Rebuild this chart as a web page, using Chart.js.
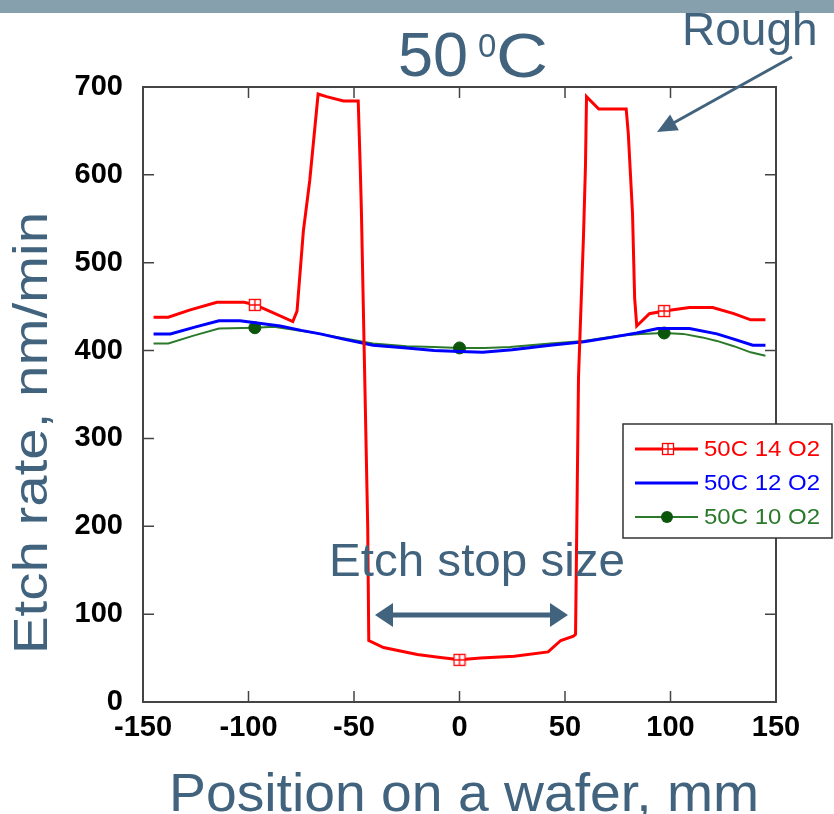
<!DOCTYPE html>
<html>
<head>
<meta charset="utf-8">
<script src="https://cdn.jsdelivr.net/npm/chart.js@4.4.1/dist/chart.umd.min.js"></script>
<style>
  body { margin: 0; background: #fff; }
  #wrap { position: relative; width: 834px; height: 814px; }
</style>
</head>
<body>
<div id="wrap"><canvas id="etchChart"></canvas></div>
<script>
// series data (position mm, etch rate nm/min)
const redX = [-145, -138, -128, -115, -102, -97, -93, -79, -77, -74, -71, -67, -63, -55, -48, -47, -46.5, -45, -43.5, -43, -36, -20, -10, 0, 10, 26, 42, 48, 54, 55, 56.4, 58.8, 59.7, 60.2, 66, 79, 80, 82, 83, 84, 90, 97, 109, 120, 130, 138, 145];
const redY = [438, 438, 446, 455, 455, 452, 448, 433, 445, 536, 593, 692, 689, 684, 684, 605, 560, 380, 200, 70, 62, 54, 51, 48, 50, 52, 57, 70, 75, 77, 369, 533, 610, 689, 675, 675, 647, 556, 460, 428, 442, 445, 449, 449, 442, 435, 435];

const blueX = [-145, -137, -125, -114, -104, -95, -85, -75, -66, -55, -41, -25, -12, 0, 11, 25, 43, 59, 72, 84, 94, 109, 122, 130, 139, 145];
const blueY = [419, 419, 427, 434, 434, 431, 428, 423, 419, 413, 406, 403, 400, 399, 398, 401, 406, 410, 415, 420, 425, 425, 419, 413, 406, 406];

const greenX = [-145, -138, -126, -114, -97, -88, -77, -66, -55, -41, -25, -12, 0, 12, 24, 43, 59, 75, 86, 97, 106, 115, 122, 130, 138, 145];
const greenY = [408, 408, 417, 425, 426, 427, 423, 419, 414, 408, 405, 404, 403, 403, 404, 408, 411, 417, 419, 420, 419, 415, 411, 405, 398, 394];

const markerX = [-97, 0, 97];   // positions that carry a symbol
const seriesLabels = ["50C 14 O2", "50C 12 O2", "50C 10 O2"];
const xTicks = [-150, -100, -50, 0, 50, 100, 150];
const yTicks = [0, 100, 200, 300, 400, 500, 600, 700];

const textBlue = "#41637e";
const greenLine = "#2b7a2b";
const greenDot = "#0b560b";
const sans = "'Liberation Sans', Arial, sans-serif";

function toPoints(xs, ys) {
  return xs.map((x, i) => ({ x: x, y: ys[i] }));
}

// red open square with cross
function makeSquareMarker() {
  const c = document.createElement("canvas");
  c.width = 14; c.height = 14;
  const g = c.getContext("2d");
  g.fillStyle = "#fff";
  g.fillRect(1, 1, 12, 12);
  g.strokeStyle = "#ff0000";
  g.lineWidth = 1.3;
  g.strokeRect(1.5, 1.5, 11, 11);
  g.beginPath();
  g.moveTo(7, 1.5); g.lineTo(7, 12.5);
  g.moveTo(1.5, 7); g.lineTo(12.5, 7);
  g.stroke();
  return c;
}
const squareMarker = makeSquareMarker();

function isMarker(ctx) {
  const p = ctx.raw;
  return p && markerX.indexOf(p.x) !== -1;
}

// draw text starting at x, stretched horizontally to a given width
function fitText(ctx, text, x, y, width) {
  const w = ctx.measureText(text).width;
  ctx.save();
  ctx.translate(x, y);
  ctx.scale(width / w, 1);
  ctx.fillText(text, 0, 0);
  ctx.restore();
}

function arrowHead(ctx, x1, y1, x2, y2, len, half) {
  const a = Math.atan2(y2 - y1, x2 - x1);
  ctx.beginPath();
  ctx.moveTo(x2, y2);
  ctx.lineTo(x2 - len * Math.cos(a) + half * Math.sin(a), y2 - len * Math.sin(a) - half * Math.cos(a));
  ctx.lineTo(x2 - len * Math.cos(a) - half * Math.sin(a), y2 - len * Math.sin(a) + half * Math.cos(a));
  ctx.closePath();
  ctx.fill();
}

const decorPlugin = {
  id: "decor",
  beforeDraw(chart) {
    const ctx = chart.ctx;
    ctx.save();
    ctx.fillStyle = "#fff";
    ctx.fillRect(0, 0, chart.width, chart.height);
    // top band
    ctx.fillStyle = "#87a0ad";
    ctx.fillRect(0, 0, chart.width, 13);
    ctx.restore();
  },
  afterDatasetsDraw(chart) {
    const ctx = chart.ctx;
    const a = chart.chartArea;
    const xs = chart.scales.x, ys = chart.scales.y;
    ctx.save();
    // frame
    ctx.strokeStyle = "#444";
    ctx.lineWidth = 2;
    ctx.strokeRect(a.left, a.top, a.right - a.left, a.bottom - a.top);
    // inward ticks on all four sides
    ctx.lineWidth = 1.5;
    ctx.beginPath();
    xs.ticks.forEach(t => {
      const px = xs.getPixelForValue(t.value);
      ctx.moveTo(px, a.bottom); ctx.lineTo(px, a.bottom - 11);
      ctx.moveTo(px, a.top); ctx.lineTo(px, a.top + 11);
    });
    ys.ticks.forEach(t => {
      const py = ys.getPixelForValue(t.value);
      ctx.moveTo(a.left, py); ctx.lineTo(a.left + 11, py);
      ctx.moveTo(a.right, py); ctx.lineTo(a.right - 11, py);
    });
    ctx.stroke();

    // legend box
    const lx = 623, ly = 424, lw = 209, lh = 114;
    ctx.fillStyle = "#fff";
    ctx.fillRect(lx, ly, lw, lh);
    ctx.strokeStyle = "#333";
    ctx.lineWidth = 1.5;
    ctx.strokeRect(lx, ly, lw, lh);
    const rows = [449, 483, 517];
    ctx.font = "22px " + sans;
    ctx.textBaseline = "middle";
    chart.data.datasets.forEach((ds, i) => {
      const y = rows[i];
      ctx.strokeStyle = ds.borderColor;
      ctx.lineWidth = i === 2 ? 2 : 3;
      ctx.beginPath();
      ctx.moveTo(635, y); ctx.lineTo(698, y);
      ctx.stroke();
      if (i === 0) {
        ctx.drawImage(squareMarker, 668 - 7, y - 7);
      } else if (i === 2) {
        ctx.fillStyle = greenDot;
        ctx.beginPath();
        ctx.arc(667, y, 6, 0, Math.PI * 2);
        ctx.fill();
      }
      ctx.fillStyle = ds.borderColor;
      fitText(ctx, ds.label, 704, y + 1, 116);
    });

    // annotations
    ctx.fillStyle = textBlue;
    ctx.strokeStyle = textBlue;
    ctx.textBaseline = "alphabetic";
    ctx.textAlign = "left";
    ctx.font = "63px " + sans;
    ctx.fillText("50", 398, 76);
    ctx.font = "33px " + sans;
    ctx.fillText("0", 478, 57);
    ctx.font = "63px " + sans;
    fitText(ctx, "C", 496, 77, 52);

    ctx.font = "46px " + sans;
    ctx.fillText("Rough", 682, 45);

    ctx.font = "47px " + sans;
    fitText(ctx, "Etch stop size", 329, 576, 296);

    ctx.font = "53px " + sans;
    fitText(ctx, "Position on a wafer, mm", 169, 811, 590);

    ctx.save();
    ctx.translate(47, 654);
    ctx.rotate(-Math.PI / 2);
    ctx.font = "49px " + sans;
    fitText(ctx, "Etch rate, nm/min", 0, 0, 442);
    ctx.restore();

    // arrow to the rough region
    ctx.lineWidth = 3;
    ctx.beginPath();
    ctx.moveTo(792, 57);
    ctx.lineTo(668, 126);
    ctx.stroke();
    arrowHead(ctx, 792, 57, 657, 132, 20, 9);

    // etch stop double arrow
    ctx.lineWidth = 5;
    ctx.beginPath();
    ctx.moveTo(390, 615);
    ctx.lineTo(552, 615);
    ctx.stroke();
    arrowHead(ctx, 500, 615, 568, 615, 18, 12);
    arrowHead(ctx, 440, 615, 375, 615, 18, 12);
    ctx.restore();
  }
};

const tickFont = { family: sans, size: 29, weight: "bold" };

new Chart(document.getElementById("etchChart"), {
  type: "line",
  data: {
    datasets: [
      {
        label: seriesLabels[0],
        data: toPoints(redX, redY),
        borderColor: "#ff0000",
        borderWidth: 3,
        pointRadius: ctx => isMarker(ctx) ? 6 : 0,
        pointStyle: squareMarker
      },
      {
        label: seriesLabels[1],
        data: toPoints(blueX, blueY),
        borderColor: "#0000ff",
        borderWidth: 3,
        pointRadius: 0
      },
      {
        label: seriesLabels[2],
        data: toPoints(greenX, greenY),
        borderColor: greenLine,
        borderWidth: 2,
        pointRadius: ctx => isMarker(ctx) ? 6 : 0,
        pointStyle: "circle",
        pointBackgroundColor: greenDot,
        pointBorderColor: greenDot,
        pointBorderWidth: 1
      }
    ]
  },
  options: {
    responsive: true,
    maintainAspectRatio: false,
    animation: false,
    layout: { padding: { top: 87, right: 58, left: 0, bottom: 0 } },
    plugins: {
      legend: { display: false },
      tooltip: { enabled: false }
    },
    elements: { line: { tension: 0 } },
    scales: {
      x: {
        type: "linear",
        min: -150,
        max: 150,
        afterBuildTicks: s => { s.ticks = xTicks.map(v => ({ value: v })); },
        grid: { display: false, drawTicks: false },
        border: { display: false },
        ticks: { font: tickFont, color: "#000", padding: 9, maxRotation: 0 },
        afterFit: s => { s.height = 112; }
      },
      y: {
        type: "linear",
        min: 0,
        max: 700,
        afterBuildTicks: s => { s.ticks = yTicks.map(v => ({ value: v })); },
        grid: { display: false, drawTicks: false },
        border: { display: false },
        ticks: { font: tickFont, color: "#000", padding: 20 },
        afterFit: s => { s.width = 143; }
      }
    }
  },
  plugins: [decorPlugin]
});
</script>
</body>
</html>
